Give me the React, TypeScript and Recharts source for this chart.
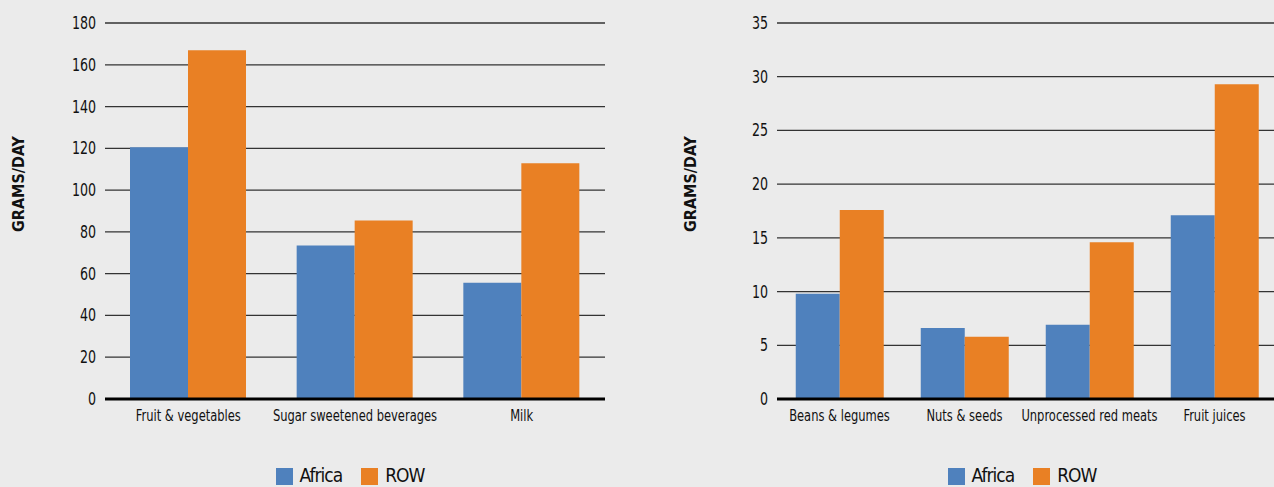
import React from 'react';
import { BarChart, Bar, XAxis, YAxis, CartesianGrid, Legend } from 'recharts';

const leftCategories = ['Fruit & vegetables', 'Sugar sweetened beverages', 'Milk'];
const leftAfrica = [120.5, 73.5, 55.7];
const leftRow = [167, 85.5, 112.8];
const leftTicks = [0, 20, 40, 60, 80, 100, 120, 140, 160, 180];

const rightCategories = ['Beans & legumes', 'Nuts & seeds', 'Unprocessed red meats', 'Fruit juices'];
const rightAfrica = [9.8, 6.6, 6.9, 17.1];
const rightRow = [17.6, 5.8, 14.6, 29.3];
const rightTicks = [0, 5, 10, 15, 20, 25, 30, 35];

const seriesNames = ['Africa', 'ROW'];
const colors = ['#4F81BD', '#E98024'];
const yLabel = 'GRAMS/DAY';

const FONT = "'DejaVu Sans Condensed', 'Liberation Sans Narrow', sans-serif";
const BG = '#EBEBEB';

function build(cats: string[], a: number[], r: number[]) {
  return cats.map((c, i) => ({ name: c, Africa: a[i], ROW: r[i] }));
}

function XTick(props: any) {
  const { x, y, payload } = props;
  return (
    <g transform={`translate(${x},${y + 14})`}>
      <text transform="scale(0.8,1)" textAnchor="middle" fill="#111" fontSize={16} fontFamily={FONT}>
        {payload.value}
      </text>
    </g>
  );
}

function YTick(props: any) {
  const { x, y, payload } = props;
  return (
    <g transform={`translate(${x - 1},${y + 6})`}>
      <text transform="scale(0.78,1)" textAnchor="end" fill="#111" fontSize={18} fontFamily={FONT}>
        {payload.value}
      </text>
    </g>
  );
}

function Panel({ data, ticks, max, left }: { data: any[]; ticks: number[]; max: number; left: number }) {
  return (
    <div style={{ position: 'absolute', left, top: 0 }}>
      <BarChart
        width={640}
        height={487}
        data={data}
        margin={{ top: 23, right: 35, left: 0, bottom: 36 }}
        barCategoryGap="15%"
        barGap={0}
      >
        <CartesianGrid vertical={false} stroke="#333" strokeWidth={1.3} />
        <XAxis
          dataKey="name"
          height={30}
          tickLine={false}
          axisLine={{ stroke: '#000', strokeWidth: 3 }}
          interval={0}
          tick={<XTick />}
        />
        <YAxis
          width={105}
          domain={[0, max]}
          ticks={ticks}
          interval={0}
          tickLine={false}
          axisLine={false}
          tick={<YTick />}
          label={{
            value: yLabel,
            angle: -90,
            position: 'center',
            dx: -34,
            dy: -27,
            style: { fill: '#111', fontSize: 16, fontWeight: 'bold', fontFamily: FONT },
          }}
        />
        <Legend
          iconType="square"
          iconSize={17}
          wrapperStyle={{ left: 105, width: 500, bottom: 1, fontFamily: FONT, fontSize: 19, letterSpacing: -1 }}
          formatter={(v: string, _e: any, i: number) => (
            <span style={{ color: '#111', paddingLeft: 3, marginRight: i === 0 ? 9 : 0 }}>{v}</span>
          )}
        />
        {seriesNames.map((s, i) => (
          <Bar key={s} dataKey={s} fill={colors[i]} isAnimationActive={false} />
        ))}
      </BarChart>
    </div>
  );
}

export default function App() {
  return (
    <div
      style={{
        position: 'absolute',
        left: 0,
        top: 0,
        width: 1274,
        height: 487,
        background: BG,
        overflow: 'hidden',
      }}
    >
      <Panel data={build(leftCategories, leftAfrica, leftRow)} ticks={leftTicks} max={180} left={0} />
      <Panel data={build(rightCategories, rightAfrica, rightRow)} ticks={rightTicks} max={35} left={672} />
    </div>
  );
}
